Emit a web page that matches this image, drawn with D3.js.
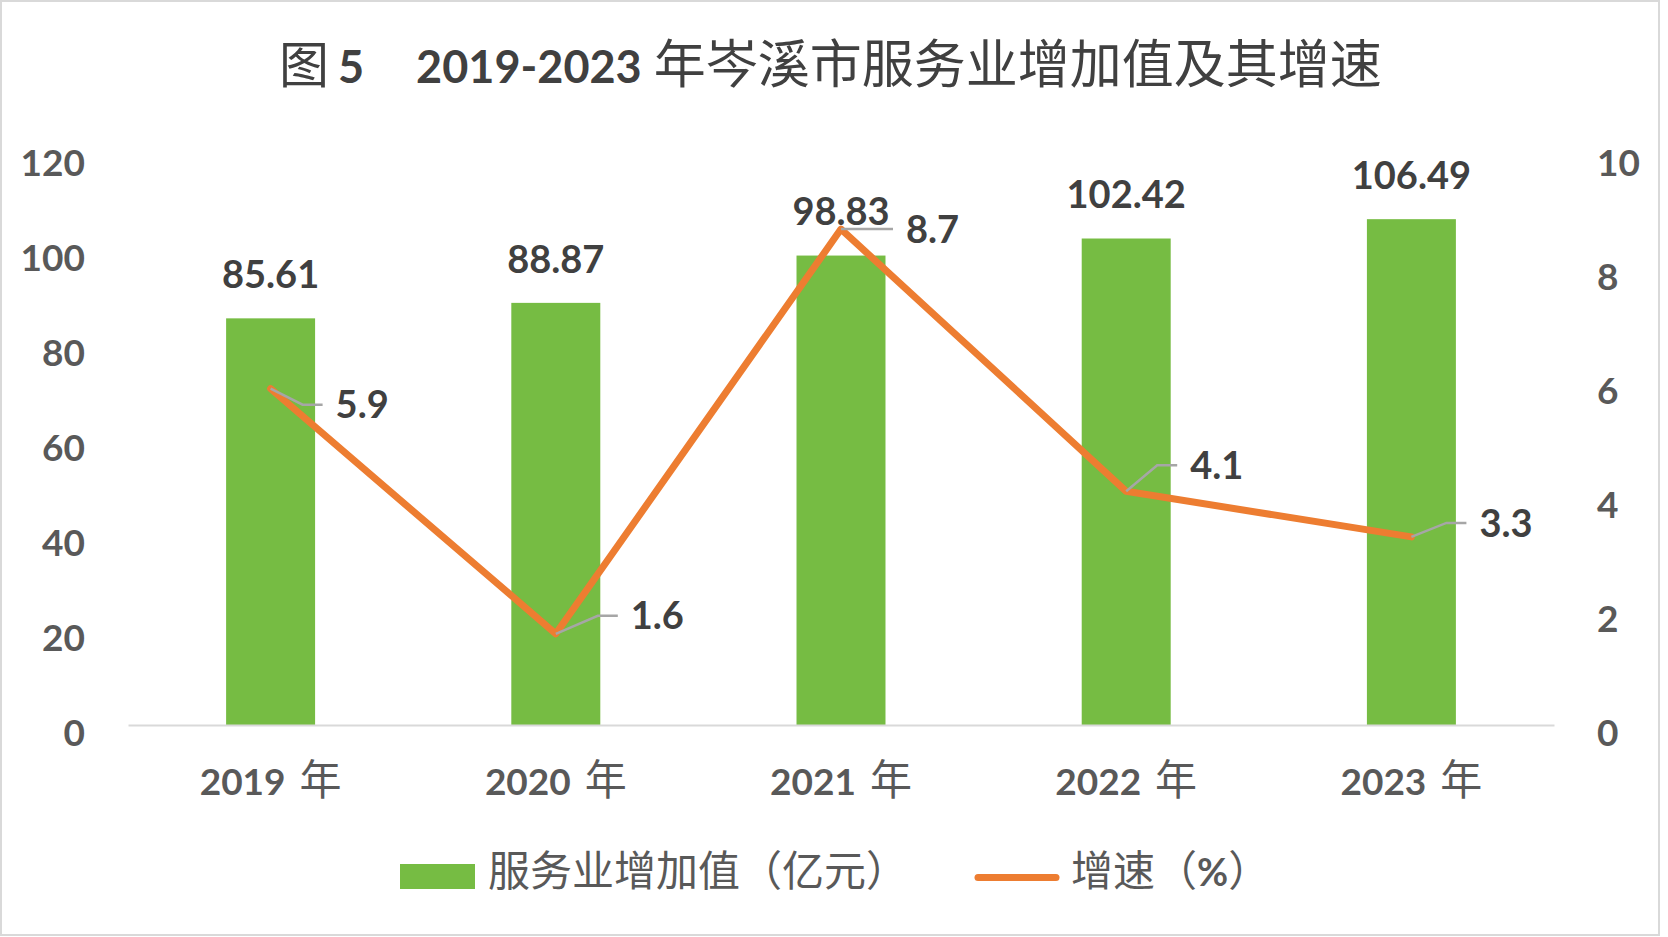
<!DOCTYPE html>
<html>
<head>
<meta charset="utf-8">
<script src="https://cdn.jsdelivr.net/npm/d3@7"></script>
<style>
  body { margin: 0; background: #fff; }
  svg { display: block; }
</style>
</head>
<body>
<div id="chart"></div>
<script>
// data
const categories = ["2019 年", "2020 年", "2021 年", "2022 年", "2023 年"];
const valueAdded = [85.61, 88.87, 98.83, 102.42, 106.49];
const growthRate = [5.9, 1.6, 8.7, 4.1, 3.3];
const leftTicks = [0, 20, 40, 60, 80, 100, 120];
const rightTicks = [0, 2, 4, 6, 8, 10];
const seriesNames = ["服务业增加值（亿元）", "增速（%）"];
const titleParts = ["图", "5", "2019-2023", "年岑溪市服务业增加值及其增速"];

// where each growth label sits relative to its point (label left edge, centre y)
const growthLabelOffsets = [[65, 16], [75, -18], [65, 0], [64, -26], [68, -14]];

const width = 1668;
const height = 937;
const latin = "Lato, 'Open Sans', sans-serif";
const cjk = "'Noto Sans CJK SC', sans-serif";

const plot = { left: 128, right: 1554, top: 155, bottom: 725 };

const svg = d3.select("#chart")
  .append("svg")
  .attr("width", width)
  .attr("height", height);

svg.append("rect")
  .attr("x", 1).attr("y", 1)
  .attr("width", 1658).attr("height", 934)
  .attr("fill", "#fff")
  .attr("stroke", "#d9d9d9")
  .attr("stroke-width", 2);

// title
const title = svg.append("text")
  .attr("x", 279).attr("y", 83)
  .attr("fill", "#404040");
title.append("tspan").attr("font-family", cjk).attr("font-size", 50).text(titleParts[0]);
title.append("tspan").attr("dx", 9).attr("font-family", latin).attr("font-weight", 700).attr("font-size", 45).text(titleParts[1]);
title.append("tspan").attr("dx", 52).attr("font-family", latin).attr("font-weight", 700).attr("font-size", 45).text(titleParts[2]);
title.append("tspan").attr("dx", 12).attr("font-family", cjk).attr("font-size", 52).text(titleParts[3]);

// scales
const x = d3.scaleBand()
  .domain(categories)
  .range([plot.left, plot.right])
  .paddingInner(0.688)
  .paddingOuter(0.344);

const yLeft = d3.scaleLinear().domain([0, 120]).range([plot.bottom, plot.top]);
const yRight = d3.scaleLinear().domain([0, 10]).range([plot.bottom, plot.top]);

const cx = (i) => x(categories[i]) + x.bandwidth() / 2;

// left axis
const axL = svg.append("g")
  .attr("transform", `translate(${plot.left}, 7)`)
  .call(d3.axisLeft(yLeft).tickValues(leftTicks).tickSize(0).tickPadding(43));
axL.select(".domain").remove();
axL.selectAll("text")
  .attr("dy", "0.36em")
  .attr("font-family", latin).attr("font-weight", 700).attr("font-size", 37)
  .attr("fill", "#595959");

// right axis
const axR = svg.append("g")
  .attr("transform", `translate(${plot.right}, 7)`)
  .call(d3.axisRight(yRight).tickValues(rightTicks).tickSize(0).tickPadding(43));
axR.select(".domain").remove();
axR.selectAll("text")
  .attr("dy", "0.36em")
  .attr("font-family", latin).attr("font-weight", 700).attr("font-size", 37)
  .attr("fill", "#595959");

// bars
svg.append("g")
  .selectAll("rect")
  .data(valueAdded)
  .join("rect")
  .attr("x", (d, i) => x(categories[i]))
  .attr("y", (d) => yLeft(d))
  .attr("width", x.bandwidth())
  .attr("height", (d) => yLeft(0) - yLeft(d))
  .attr("fill", "#76bc43");

// bottom axis
const axB = svg.append("g")
  .attr("transform", `translate(0, ${plot.bottom})`)
  .call(d3.axisBottom(x).tickSize(0).tickSizeOuter(0));
axB.select(".domain")
  .attr("stroke", "#d9d9d9")
  .attr("stroke-width", 2);
axB.selectAll("text").each(function (d) {
  const [yr, unit] = d.split(" ");
  const t = d3.select(this)
    .attr("y", 70).attr("dy", 0)
    .attr("fill", "#595959")
    .text(null);
  t.append("tspan").attr("font-family", latin).attr("font-weight", 700).attr("font-size", 37).text(yr);
  t.append("tspan").attr("dx", 14).attr("font-family", cjk).attr("font-size", 42).text(unit);
});

// bar value labels
svg.append("g")
  .selectAll("text")
  .data(valueAdded)
  .join("text")
  .attr("x", (d, i) => cx(i))
  .attr("y", (d) => yLeft(d) - 44)
  .attr("dy", "0.36em")
  .attr("text-anchor", "middle")
  .attr("font-family", latin).attr("font-weight", 700).attr("font-size", 38)
  .attr("fill", "#404040")
  .text((d) => d.toFixed(2));

// growth line
const line = d3.line()
  .x((d, i) => cx(i))
  .y((d) => yRight(d));

svg.append("path")
  .datum(growthRate)
  .attr("d", line)
  .attr("fill", "none")
  .attr("stroke", "#ed7d31")
  .attr("stroke-width", 7)
  .attr("stroke-linejoin", "round")
  .attr("stroke-linecap", "round");

// leader lines + growth labels
const gl = svg.append("g");
growthRate.forEach((d, i) => {
  const px = cx(i), py = yRight(d);
  const lx = px + growthLabelOffsets[i][0];
  const ly = py + growthLabelOffsets[i][1];
  gl.append("polyline")
    .attr("points", `${px},${py} ${lx - 33},${ly} ${lx - 13},${ly}`)
    .attr("fill", "none")
    .attr("stroke", "#a6a6a6")
    .attr("stroke-width", 2.5);
  gl.append("text")
    .attr("x", lx).attr("y", ly)
    .attr("dy", "0.36em")
    .attr("font-family", latin).attr("font-weight", 700).attr("font-size", 38)
    .attr("fill", "#404040")
    .text(d.toFixed(1));
});

// legend
const lg = svg.append("g");
lg.append("rect")
  .attr("x", 400).attr("y", 864)
  .attr("width", 75).attr("height", 25)
  .attr("fill", "#76bc43");
lg.append("text")
  .attr("x", 488).attr("y", 886)
  .attr("font-family", cjk).attr("font-size", 42)
  .attr("fill", "#595959")
  .text(seriesNames[0]);
lg.append("line")
  .attr("x1", 978).attr("x2", 1056)
  .attr("y1", 877.5).attr("y2", 877.5)
  .attr("stroke", "#ed7d31")
  .attr("stroke-width", 7)
  .attr("stroke-linecap", "round");
const lt = lg.append("text")
  .attr("x", 1071).attr("y", 886)
  .attr("font-family", cjk).attr("font-size", 42)
  .attr("fill", "#595959");
const [pre, post] = seriesNames[1].split("%");
lt.append("tspan").text(pre);
lt.append("tspan").attr("font-family", latin).attr("font-weight", 700).attr("font-size", 38).text("%");
lt.append("tspan").text(post);
</script>
</body>
</html>
